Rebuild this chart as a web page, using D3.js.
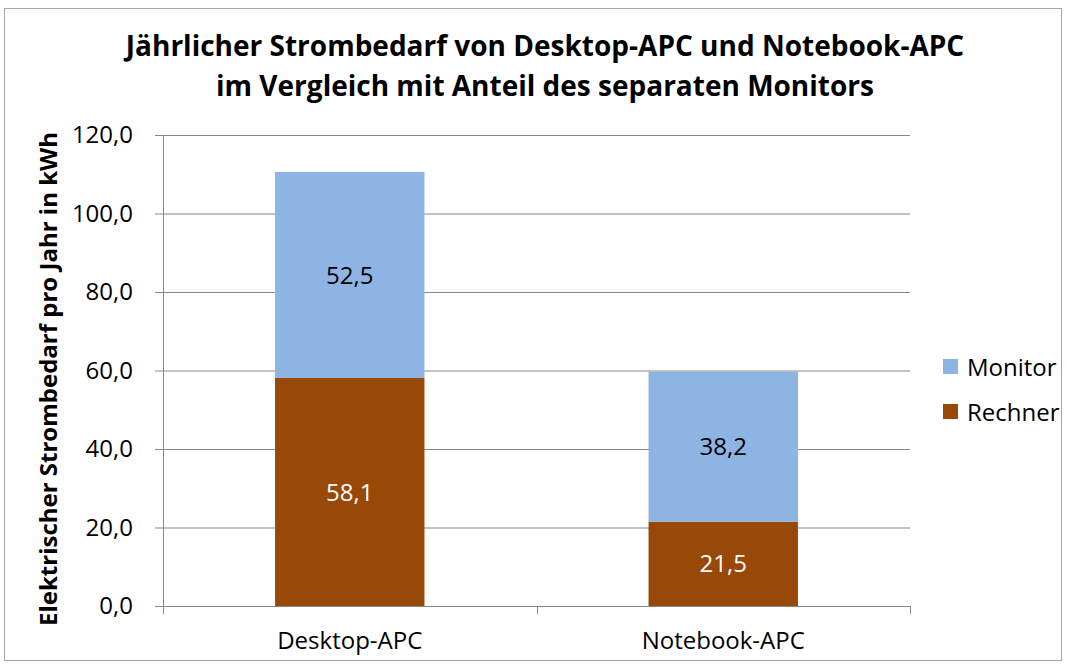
<!DOCTYPE html>
<html>
<head>
<meta charset="utf-8">
<script src="https://cdn.jsdelivr.net/npm/d3@7"></script>
<style>
  body { margin: 0; background: #fff; }
  text { font-family: "Open Sans", "Noto Sans", sans-serif; }
</style>
</head>
<body>
<div id="chart"></div>
<script>
// data
const categories = ["Desktop-APC", "Notebook-APC"];
const seriesNames = ["Rechner", "Monitor"];
const rechner = [58.1, 21.5];
const monitor = [52.5, 38.2];
const yTicks = [0, 20, 40, 60, 80, 100, 120];
const titleLines = ["Jährlicher Strombedarf von Desktop-APC und Notebook-APC",
                    "im Vergleich mit Anteil des separaten Monitors"];
const yTitle = "Elektrischer Strombedarf pro Jahr in kWh";

const colors = { Rechner: "#984807", Monitor: "#8eb4e3" };
const labelColors = { Rechner: "#ffffff", Monitor: "#000000" };

const width = 1067, height = 666;
const margin = { left: 163, right: 157, top: 135, bottom: 60 };

const svg = d3.select("#chart").append("svg")
    .attr("width", width)
    .attr("height", height);

// outer border of chart area
svg.append("rect")
    .attr("x", 4.5).attr("y", 8.5)
    .attr("width", 1057).attr("height", 652)
    .attr("fill", "none")
    .attr("stroke", "#a6a6a6");

const x = d3.scaleBand()
    .domain(categories)
    .range([margin.left, width - margin.right])
    .paddingInner(0.6)
    .paddingOuter(0.3);

const y = d3.scaleLinear()
    .domain([0, 120])
    .range([height - margin.bottom, margin.top]);

const fmt = function(v) { return d3.format(".1f")(v).replace(".", ","); };

// gridlines + y axis
const yAxis = d3.axisLeft(y)
    .tickValues(yTicks)
    .tickFormat(fmt)
    .tickSize(-(width - margin.right - margin.left))
    .tickPadding(30);

const gy = svg.append("g")
    .attr("transform", "translate(" + margin.left + ",0)")
    .call(yAxis);
gy.select(".domain").attr("stroke", "#888").attr("stroke-width", 1);
gy.selectAll(".tick line").attr("stroke", "#888").attr("x1", -8);
gy.selectAll(".tick text")
    .attr("font-size", 24)
    .attr("fill", "#000")
    .style("font-family", "'Open Sans', sans-serif");

// stacked data
const table = categories.map(function(c, i) {
    return { cat: c, Rechner: rechner[i], Monitor: monitor[i] };
});
const stack = d3.stack().keys(seriesNames);
const stacked = stack(table);

const layers = svg.selectAll("g.layer")
    .data(stacked)
    .enter().append("g")
    .attr("class", "layer")
    .attr("fill", function(d) { return colors[d.key]; });

layers.selectAll("rect")
    .data(function(d) { return d; })
    .enter().append("rect")
    .attr("x", function(d) { return x(d.data.cat); })
    .attr("y", function(d) { return y(d[1]); })
    .attr("width", x.bandwidth())
    .attr("height", function(d) { return y(d[0]) - y(d[1]); });

// x axis baseline with category ticks
const xEdges = [margin.left, (margin.left + width - margin.right) / 2, width - margin.right];
svg.append("line")
    .attr("x1", margin.left).attr("x2", width - margin.right)
    .attr("y1", y(0) + 0.5).attr("y2", y(0) + 0.5)
    .attr("stroke", "#888");
svg.selectAll("line.xtick")
    .data(xEdges)
    .enter().append("line")
    .attr("class", "xtick")
    .attr("x1", function(d) { return Math.round(d) + 0.5; })
    .attr("x2", function(d) { return Math.round(d) + 0.5; })
    .attr("y1", y(0)).attr("y2", y(0) + 8)
    .attr("stroke", "#888");

svg.selectAll("text.cat")
    .data(categories)
    .enter().append("text")
    .attr("class", "cat")
    .attr("x", function(d) { return x(d) + x.bandwidth() / 2; })
    .attr("y", y(0) + 43)
    .attr("text-anchor", "middle")
    .attr("font-size", 24)
    .text(function(d) { return d; });

// value labels
stacked.forEach(function(layer) {
    svg.selectAll(null)
        .data(layer)
        .enter().append("text")
        .attr("x", function(d) { return x(d.data.cat) + x.bandwidth() / 2; })
        .attr("y", function(d) { return (y(d[0]) + y(d[1])) / 2; })
        .attr("dy", "0.36em")
        .attr("text-anchor", "middle")
        .attr("font-size", 24)
        .attr("fill", labelColors[layer.key])
        .text(function(d) { return fmt(d[1] - d[0]); });
});

// title
svg.selectAll("text.title")
    .data(titleLines)
    .enter().append("text")
    .attr("class", "title")
    .attr("x", 545)
    .attr("y", function(d, i) { return 56 + i * 40; })
    .attr("text-anchor", "middle")
    .attr("font-size", 28)
    .attr("font-weight", "bold")
    .text(function(d) { return d; });

// y axis title
svg.append("text")
    .attr("transform", "translate(57,379) rotate(-90)")
    .attr("text-anchor", "middle")
    .attr("font-size", 24)
    .attr("font-weight", "bold")
    .text(yTitle);

// legend (Monitor on top)
const legendItems = seriesNames.slice().reverse();
const legend = svg.selectAll("g.legend")
    .data(legendItems)
    .enter().append("g")
    .attr("class", "legend")
    .attr("transform", function(d, i) { return "translate(943," + (359 + i * 45) + ")"; });
legend.append("rect")
    .attr("width", 15).attr("height", 15)
    .attr("fill", function(d) { return colors[d]; });
legend.append("text")
    .attr("x", 24).attr("y", 8)
    .attr("dy", "0.36em")
    .attr("font-size", 24)
    .text(function(d) { return d; });
</script>
</body>
</html>
